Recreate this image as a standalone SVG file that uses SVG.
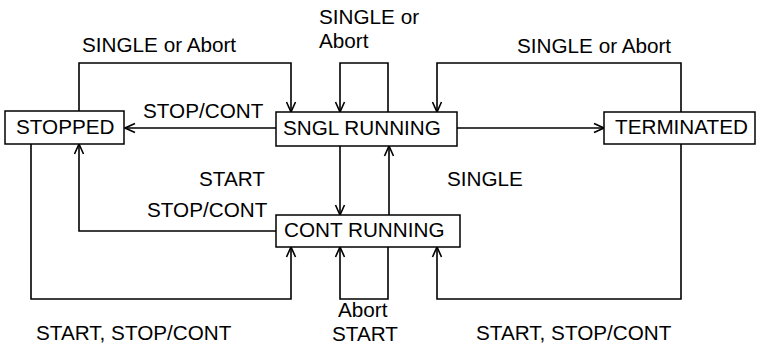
<svg xmlns="http://www.w3.org/2000/svg" width="757" height="345" viewBox="0 0 757 345">
<defs>
<marker id="arr" viewBox="0 0 12 12" refX="11" refY="6" markerWidth="12" markerHeight="12" markerUnits="userSpaceOnUse" orient="auto">
<path d="M1,1.5 L11,6 L1,10.5" fill="none" stroke="#000" stroke-width="1.6"/>
</marker>
<style>
.box{fill:#fff;stroke:#000;stroke-width:1.5}
.lbl{font-family:"Liberation Sans",Arial,sans-serif;font-size:20.7px;fill:#000}
.c{fill:none;stroke:#000;stroke-width:1.6;marker-end:url(#arr)}
</style>
</defs>
<rect width="757" height="345" fill="#fff"/>
<g id="connectors">
<path class="c" d="M79,111 V63 H291 V112"/>
<path class="c" d="M276,128 H125"/>
<path class="c" d="M388,112 V63 H340 V112"/>
<path class="c" d="M681,112 V63 H437 V112"/>
<path class="c" d="M457,128 H604"/>
<path class="c" d="M340,146 V215"/>
<path class="c" d="M389,215 V146"/>
<path class="c" d="M276,231 H79 V144"/>
<path class="c" d="M31,144 V299 H291 V247"/>
<path class="c" d="M388,247 V299 H340 V247"/>
<path class="c" d="M681,144 V299 H437 V247"/>
<text class="lbl" x="82" y="52">SINGLE or Abort</text>
<text class="lbl" x="143" y="118">STOP/CONT</text>
<text class="lbl" x="319" y="24">SINGLE or<tspan x="319" dy="24">Abort</tspan></text>
<text class="lbl" x="517" y="53">SINGLE or Abort</text>
<text class="lbl" x="199" y="186">START</text>
<text class="lbl" x="147" y="217">STOP/CONT</text>
<text class="lbl" x="447" y="186">SINGLE</text>
<text class="lbl" x="36" y="340">START, STOP/CONT</text>
<text class="lbl" x="476" y="340">START, STOP/CONT</text>
<text class="lbl" x="338" y="317">Abort<tspan x="332" dy="23.6">START</tspan></text>
</g>
<g id="stopped">
<rect class="box" x="5" y="111" width="119" height="33"/>
<text class="lbl" x="16" y="134">STOPPED</text>
</g>
<g id="sngl-running">
<rect class="box" x="276" y="112" width="181" height="34"/>
<text class="lbl" x="283" y="135">SNGL RUNNING</text>
</g>
<g id="terminated">
<rect class="box" x="604" y="112" width="151" height="32"/>
<text class="lbl" x="615" y="134">TERMINATED</text>
</g>
<g id="cont-running">
<rect class="box" x="276" y="215" width="184" height="32"/>
<text class="lbl" x="284" y="237">CONT RUNNING</text>
</g>
</svg>
